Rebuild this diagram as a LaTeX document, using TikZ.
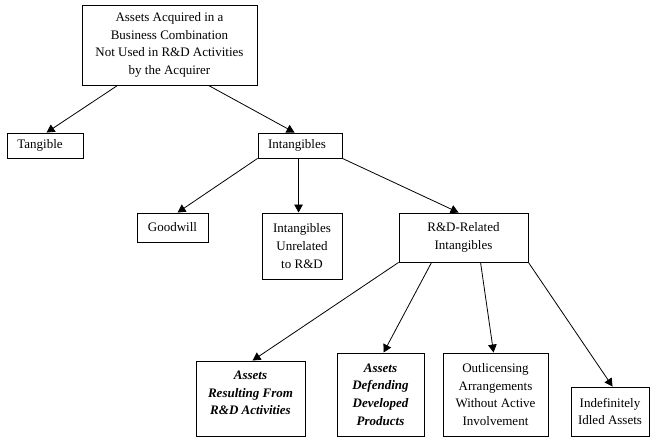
\documentclass[tikz,border=0pt]{standalone}
\usepackage{fontspec}
\setmainfont{Liberation Serif}
\usetikzlibrary{arrows.meta,calc}

\tikzset{
  box/.style={draw, line width=0.9pt, align=center, inner sep=0pt,
    font=\fontsize{13pt}{17.7pt}\selectfont},
  emph box/.style={box, font=\fontsize{13pt}{17.7pt}\selectfont\bfseries\itshape},
  link/.style={line width=0.8pt, -{Triangle[length=8pt,width=8.5pt]}}
}

\begin{document}
\begin{tikzpicture}[x=1pt,y=-1pt]
\useasboundingbox (0,0) rectangle (650,438);

% top level
\node[box, minimum width=175pt, minimum height=80pt] (root) at (169.5,45)
  {Assets Acquired in a\\Business Combination\\Not Used in R\&D Activities\\by the Acquirer};

% second level
\node[box, minimum width=76pt, minimum height=25pt] (tang) at (45,145.5) {Tangible\hspace{10pt}};
\node[box, minimum width=84pt, minimum height=25pt] (intang) at (300,145.5) {Intangibles\hspace{6pt}};

% third level
\node[box, minimum width=71pt, minimum height=29pt] (goodwill) at (172.5,227.5) {Goodwill};
\node[box, minimum width=80pt, minimum height=66pt] (unrel) at (302,246)
  {Intangibles\\Unrelated\\to R\&D};
\node[box, minimum width=129pt, minimum height=49pt] (rdrel) at (463.5,237.5)
  {R\&D-Related\\Intangibles};

% bottom level
\node[emph box, minimum width=109pt, minimum height=75pt] (res) at (250.5,398.5)
  {Assets\\Resulting From\\R\&D Activities\\[-6.5pt]};
\node[emph box, minimum width=87pt, minimum height=83pt] (def) at (380.5,394.5)
  {Assets\\Defending\\Developed\\Products};
\node[box, minimum width=105pt, minimum height=83pt] (outl) at (495.5,394.5)
  {Outlicensing\\Arrangements\\Without Active\\Involvement};
\node[box, minimum width=78pt, minimum height=49pt] (idle) at (610,411.5)
  {Indefinitely\\Idled Assets};

% connectors
\draw[link] ([xshift=36pt]root.south west) -- ([xshift=40pt]tang.north west);
\draw[link] ([xshift=127pt]root.south west) -- ([xshift=37pt]intang.north west);

\draw[link] (intang.south west) -- ([xshift=41pt]goodwill.north west);
\draw[link] ([xshift=41pt]intang.south west) -- ([xshift=37pt]unrel.north west);
\draw[link] (intang.south east) -- ([xshift=60pt]rdrel.north west);

\draw[link] (rdrel.south west) -- ([xshift=57pt]res.north west);
\draw[link] ([xshift=33pt]rdrel.south west) -- ([xshift=47pt]def.north west);
\draw[link] ([xshift=82pt]rdrel.south west) -- ([xshift=51pt]outl.north west);
\draw[link] (rdrel.south east) -- ([xshift=42pt]idle.north west);
\end{tikzpicture}
\end{document}
